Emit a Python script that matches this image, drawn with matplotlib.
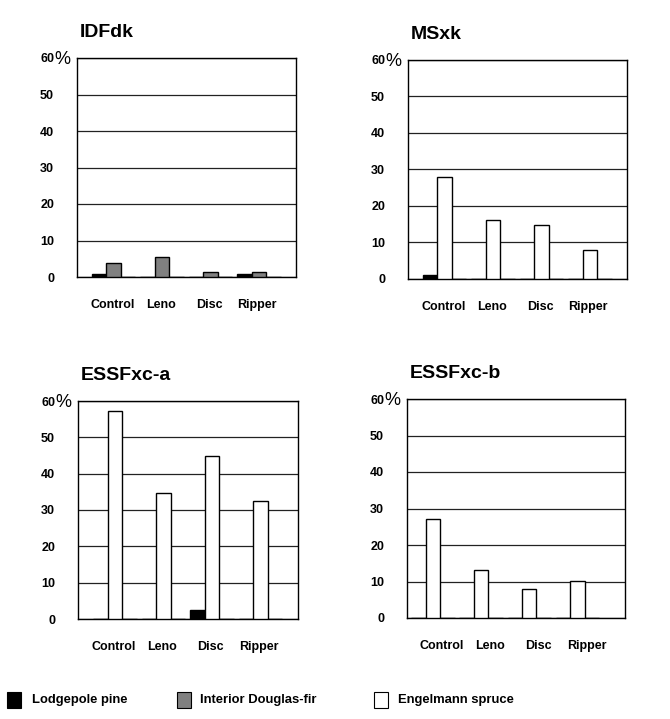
"""
Seedling survival by species and site preparation treatment (4 subzones).
Output: out.png
"""

import matplotlib
matplotlib.use("Agg")
import matplotlib.pyplot as plt
from matplotlib.patches import Rectangle

plt.rcParams["font.family"] = ["Liberation Sans", "DejaVu Sans"]

# ---------------------------------------------------------------------------
# Data (percent)
# ---------------------------------------------------------------------------
TREATMENTS = ["Control", "Leno", "Disc", "Ripper"]
SPECIES = ["Lodgepole pine", "Interior Douglas-fir", "Engelmann spruce"]

idfdk_pl = [0.8, 0.0, 0.0, 0.8]
idfdk_fd = [3.9, 5.4, 1.5, 1.5]
idfdk_sx = [0.0, 0.0, 0.0, 0.0]

msxk_pl = [1.0, 0.0, 0.0, 0.0]
msxk_fd = [0.0, 0.0, 0.0, 0.0]
msxk_sx = [27.9, 16.3, 14.7, 7.9]

essfa_pl = [0.0, 0.0, 2.5, 0.0]
essfa_fd = [0.0, 0.0, 0.0, 0.0]
essfa_sx = [57.2, 34.8, 44.8, 32.4]

essfb_pl = [0.0, 0.0, 0.0, 0.0]
essfb_fd = [0.0, 0.0, 0.0, 0.0]
essfb_sx = [27.0, 13.2, 7.9, 10.1]

# ---------------------------------------------------------------------------
# Style
# ---------------------------------------------------------------------------
COLOURS = {
    "Lodgepole pine": "black",
    "Interior Douglas-fir": "#808080",
    "Engelmann spruce": "white",
}
BAR_W = 0.3
W, H = 670, 719

# title, {species: values}, bar order, bar shift, axes rect in pixels (x, top, w, h)
panels = [
    ("IDFdk", {"Lodgepole pine": idfdk_pl, "Interior Douglas-fir": idfdk_fd,
               "Engelmann spruce": idfdk_sx},
     ["Lodgepole pine", "Interior Douglas-fir", "Engelmann spruce"], 0.0,
     (77, 58, 219, 219)),
    ("MSxk", {"Lodgepole pine": msxk_pl, "Interior Douglas-fir": msxk_fd,
              "Engelmann spruce": msxk_sx},
     ["Lodgepole pine", "Engelmann spruce", "Interior Douglas-fir"], 0.0,
     (408, 60, 219, 219)),
    ("ESSFxc-a", {"Lodgepole pine": essfa_pl, "Interior Douglas-fir": essfa_fd,
                  "Engelmann spruce": essfa_sx},
     ["Lodgepole pine", "Engelmann spruce", "Interior Douglas-fir"], 0.0,
     (78, 401, 220, 218)),
    ("ESSFxc-b", {"Lodgepole pine": essfb_pl, "Interior Douglas-fir": essfb_fd,
                  "Engelmann spruce": essfb_sx},
     ["Lodgepole pine", "Engelmann spruce", "Interior Douglas-fir"], -0.22,
     (407, 399, 218, 219)),
]

fig = plt.figure(figsize=(W / 100, H / 100), dpi=100)

for title, values, order, shift, (px, ptop, pw, ph) in panels:
    ax = fig.add_axes([px / W, 1 - (ptop + ph) / H, pw / W, ph / H])
    for j, sp in enumerate(order):
        xs = [i + shift + BAR_W * j for i in range(len(TREATMENTS))]
        ax.bar(xs, values[sp], width=BAR_W, align="edge", color=COLOURS[sp],
               edgecolor="black", linewidth=1.0, zorder=3)

    ax.set_xlim(-0.31, 4.22)
    ax.set_ylim(0, 60)
    ax.set_yticks(range(0, 61, 10))
    ax.set_yticklabels([str(v) for v in range(0, 61, 10)],
                       fontsize=9, fontweight="bold")
    ax.set_xticks([i + 0.42 for i in range(len(TREATMENTS))])
    ax.set_xticklabels(TREATMENTS, fontsize=9, fontweight="bold")
    ax.tick_params(axis="y", length=0, pad=16.5)
    ax.tick_params(axis="x", length=0, pad=16)
    ax.yaxis.grid(True, color="#222222", linewidth=0.9, zorder=1)
    ax.set_axisbelow(True)
    for s in ax.spines.values():
        s.set_linewidth(1.0)
        s.set_color("black")

    ax.annotate("%", xy=(0, 60), xycoords=("axes fraction", "data"),
                xytext=(-16, -1), textcoords="offset points",
                ha="left", va="center", fontsize=13)
    ax.annotate(title, xy=(0, 1), xycoords="axes fraction",
                xytext=(2, 15), textcoords="offset points",
                ha="left", va="baseline", fontsize=14, fontweight="bold")

# ---------------------------------------------------------------------------
# Legend (manual, bottom row)
# ---------------------------------------------------------------------------
legend_x = [(7, 32), (177, 200), (374, 398)]
for sp, (bx, tx) in zip(SPECIES, legend_x):
    fig.patches.append(Rectangle((bx / W, 1 - 708 / H), 14 / W, 16 / H,
                                 transform=fig.transFigure,
                                 facecolor=COLOURS[sp], edgecolor="black",
                                 linewidth=0.8))
    fig.text(tx / W, 1 - 700 / H, sp, ha="left", va="center",
             fontsize=9.4, fontweight="bold")

fig.savefig("out.png", dpi=100)
